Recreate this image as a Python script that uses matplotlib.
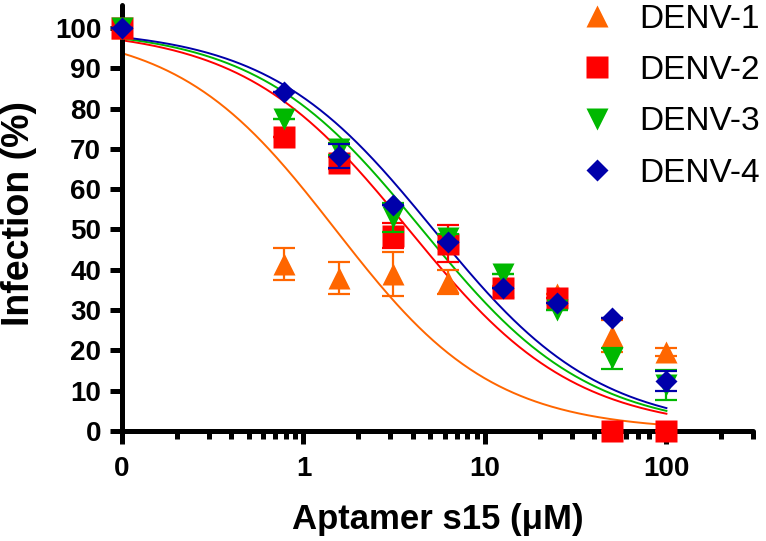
import numpy as np
import matplotlib
matplotlib.use("Agg")
import matplotlib.pyplot as plt
from matplotlib import ticker

plt.rcParams['font.family'] = ['Liberation Sans', 'DejaVu Sans']

# aptamer concentrations (uM); 0 is drawn at the "0" position of the log axis
conc = np.array([0, 0.78, 1.56, 3.125, 6.25, 12.5, 25, 50, 100])
zero_pos = 0.1

labels = ['DENV-1', 'DENV-2', 'DENV-3', 'DENV-4']

# infection (%)
denv1 = [100, 41.5, 38, 39, 37, 36, 34, 23.5, 19.5]
denv2 = [100, 73, 66.5, 48.5, 46.5, 35.5, 33, 0, 0]
denv3 = [100, 77.5, 70, 53, 48, 39, 30, 18, 11.5]
denv4 = [100, 84, 68.3, 56, 47, 35.5, 31.8, 28, 12.5]

# error bars (SD), 0 where none is visible
err1 = [0, 4, 4, 5.5, 3, 0, 0, 4, 1]
err2 = [0, 0, 1.5, 3, 4.5, 0, 0, 0, 0]
err3 = [0, 0, 1.5, 3.5, 1, 0, 0, 2.5, 3.7]
err4 = [0, 0, 3, 0, 0, 0, 0, 0, 2.5]

# fitted dose-response curves: IC50 (uM) and Hill slope
ic50 = [1.5, 3.8, 4.5, 5.2]
hill = [1.0, 0.95, 0.95, 0.95]

colors = ['#FF6600', '#FF0000', '#00B800', '#0000AA']
markers = ['^', 's', 'v', 'D']
msizes = [16, 16, 16, 11.5]

fig = plt.figure(figsize=(7.66, 5.41), dpi=100)
ax = fig.add_axes([122 / 766, 1 - 431 / 541, (753 - 122) / 766, (431 - 5) / 541])

xpos = np.where(conc == 0, zero_pos, conc)
xfit = np.logspace(np.log10(zero_pos), 2, 300)

values = [denv1, denv2, denv3, denv4]
errors = [err1, err2, err3, err4]

handles = []
for i in range(4):
    yfit = 100 / (1 + (xfit / ic50[i]) ** hill[i])
    ax.plot(xfit, yfit, color=colors[i], lw=1.4, zorder=2)

for i in range(4):
    eb = ax.errorbar(xpos, values[i], yerr=errors[i], fmt=markers[i],
                     color=colors[i], ms=msizes[i], mec='none',
                     elinewidth=1.6, capsize=8, capthick=1.6,
                     zorder=3 + i, clip_on=False)
    for art in eb.lines[1] + eb.lines[2]:
        art.set_clip_on(False)
    h, = ax.plot([], [], markers[i], color=colors[i], ms=msizes[i], mec='none')
    handles.append(h)

ax.set_xscale('log')
ax.set_xlim(zero_pos, 300)
ax.set_ylim(0, 105.7)

ax.set_xticks([0.1, 1, 10, 100])
ax.set_xticklabels(['0', '1', '10', '100'])
ax.xaxis.set_minor_locator(ticker.LogLocator(base=10, subs=np.arange(2, 10)))
ax.xaxis.set_minor_formatter(ticker.NullFormatter())
ax.set_yticks(np.arange(0, 101, 10))

for s in ['top', 'right']:
    ax.spines[s].set_visible(False)
for s in ['left', 'bottom']:
    ax.spines[s].set_linewidth(3.6)
    ax.spines[s].set_capstyle('round')

ax.tick_params(which='major', direction='out', length=9, width=3.6, labelsize=20, pad=6)
ax.tick_params(which='minor', direction='out', length=6, width=3.6)
ax.tick_params(axis='x', which='major', pad=9)
for lab in ax.get_xticklabels() + ax.get_yticklabels():
    lab.set_fontweight('bold')

fig.text(19 / 766, 1 - 214 / 541, 'Infection (%)', rotation=90, ha='center', va='center',
         fontsize=27, fontweight='bold')
fig.text(438 / 766, 1 - 529 / 541, 'Aptamer s15 (\u03bcM)', ha='center', va='baseline',
         fontsize=25, fontweight='bold')

ax.legend(handles, labels, loc='upper left', bbox_to_anchor=(580 / 766, 1 - 3.7 / 541),
          bbox_transform=fig.transFigure, frameon=False, fontsize=24,
          handlelength=1.0, handletextpad=0.79, labelspacing=0.61,
          borderpad=0, borderaxespad=0, numpoints=1)

fig.savefig('out.png', dpi=100)
